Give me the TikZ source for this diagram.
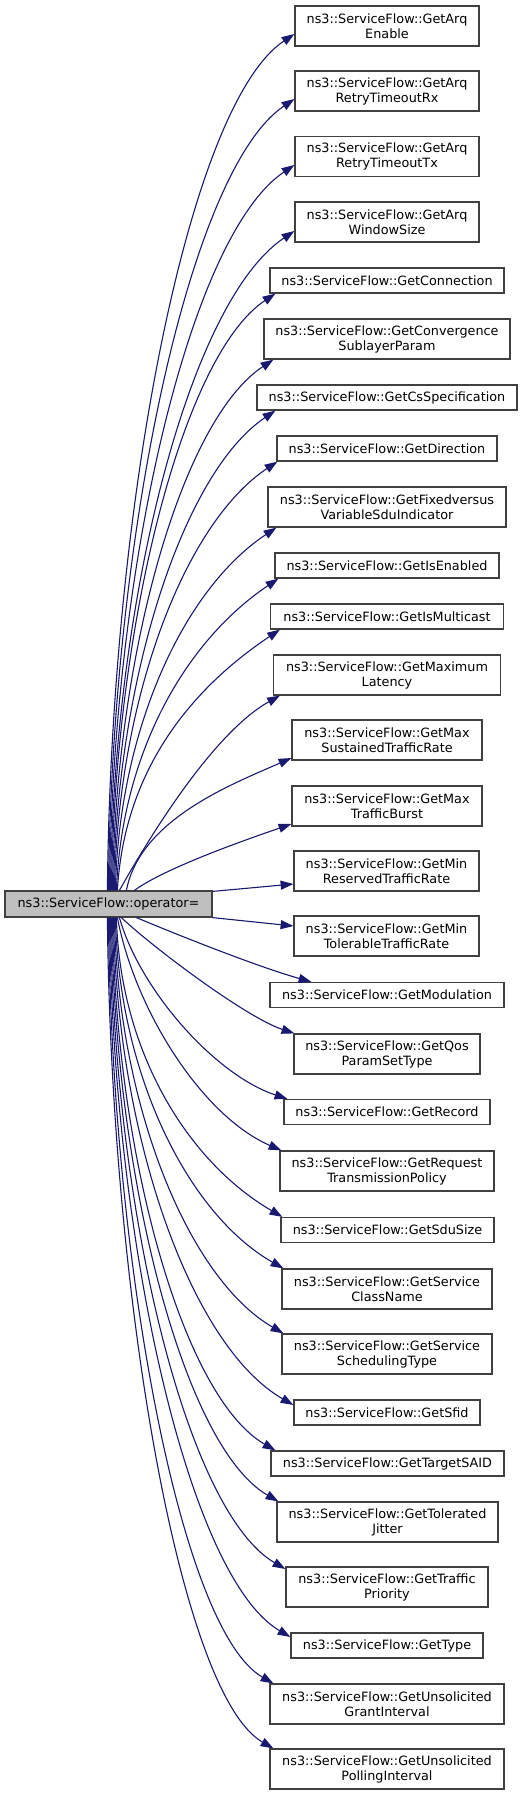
\documentclass[tikz,border=0pt]{standalone}
\usepackage{fontspec}
\setmainfont{DejaVu Sans}
\usetikzlibrary{arrows.meta,calc}
\definecolor{edgeblue}{HTML}{191970}
\definecolor{boxborder}{HTML}{404040}
\definecolor{mainfill}{HTML}{BFBFBF}
\begin{document}
\begin{tikzpicture}[x=1pt,y=-1pt,
  fn/.style={draw=boxborder, line width=1.2pt, fill=white, inner sep=0pt, align=center,
    font=\fontsize{12.8}{15}\selectfont, text=black},
  one/.style={fn, minimum height=25},
  two/.style={fn, minimum height=40},
  edge/.style={draw=edgeblue, line width=1.1pt, -{Triangle[length=12.8pt,width=9pt]}}]
\useasboundingbox (0,0) rectangle (528,1796);

\node[one, fill=mainfill, minimum width=207, minimum height=26] (m) at (108.5,904) {ns3::ServiceFlow::operator=};

\node[two, minimum width=184] (n1) at (387,26) {ns3::ServiceFlow::GetArq\\Enable};
\node[two, minimum width=184] (n2) at (387,91) {ns3::ServiceFlow::GetArq\\RetryTimeoutRx};
\node[two, minimum width=184] (n3) at (387,156.5) {ns3::ServiceFlow::GetArq\\RetryTimeoutTx};
\node[two, minimum width=184] (n4) at (387,222) {ns3::ServiceFlow::GetArq\\WindowSize};
\node[one, minimum width=234] (n5) at (387,280.5) {ns3::ServiceFlow::GetConnection};
\node[two, minimum width=246] (n6) at (387,339) {ns3::ServiceFlow::GetConvergence\\SublayerParam};
\node[one, minimum width=260] (n7) at (387,397.5) {ns3::ServiceFlow::GetCsSpecification};
\node[one, minimum width=220] (n8) at (387,448.5) {ns3::ServiceFlow::GetDirection};
\node[two, minimum width=238] (n9) at (387,507) {ns3::ServiceFlow::GetFixedversus\\VariableSduIndicator};
\node[one, minimum width=224] (n10) at (387,565.5) {ns3::ServiceFlow::GetIsEnabled};
\node[one, minimum width=233] (n11) at (387,616.5) {ns3::ServiceFlow::GetIsMulticast};
\node[two, minimum width=227] (n12) at (387,675) {ns3::ServiceFlow::GetMaximum\\Latency};
\node[two, minimum width=190] (n13) at (387,740) {ns3::ServiceFlow::GetMax\\SustainedTrafficRate};
\node[two, minimum width=190] (n14) at (387,806) {ns3::ServiceFlow::GetMax\\TrafficBurst};
\node[two, minimum width=185] (n15) at (386.5,871) {ns3::ServiceFlow::GetMin\\ReservedTrafficRate};
\node[two, minimum width=185] (n16) at (386.5,936) {ns3::ServiceFlow::GetMin\\TolerableTrafficRate};
\node[one, minimum width=234] (n17) at (387,995) {ns3::ServiceFlow::GetModulation};
\node[two, minimum width=186] (n18) at (387,1054) {ns3::ServiceFlow::GetQos\\ParamSetType};
\node[one, minimum width=206] (n19) at (387,1112) {ns3::ServiceFlow::GetRecord};
\node[two, minimum width=214] (n20) at (387,1171) {ns3::ServiceFlow::GetRequest\\TransmissionPolicy};
\node[one, minimum width=213] (n21) at (387.5,1230) {ns3::ServiceFlow::GetSduSize};
\node[two, minimum width=210] (n22) at (387,1289) {ns3::ServiceFlow::GetService\\ClassName};
\node[two, minimum width=210] (n23) at (387,1354) {ns3::ServiceFlow::GetService\\SchedulingType};
\node[one, minimum width=186] (n24) at (387,1412.5) {ns3::ServiceFlow::GetSfid};
\node[one, minimum width=233] (n25) at (387.5,1463.5) {ns3::ServiceFlow::GetTargetSAID};
\node[two, minimum width=221] (n26) at (387.5,1522) {ns3::ServiceFlow::GetTolerated\\Jitter};
\node[two, minimum width=202] (n27) at (387,1587) {ns3::ServiceFlow::GetTraffic\\Priority};
\node[one, minimum width=192] (n28) at (387,1645.5) {ns3::ServiceFlow::GetType};
\node[two, minimum width=234] (n29) at (387,1704) {ns3::ServiceFlow::GetUnsolicited\\GrantInterval};
\node[two, minimum width=234] (n30) at (387,1769) {ns3::ServiceFlow::GetUnsolicited\\PollingInterval};

% upper edges
\draw[edge] ($(m.north west)+(103,0)$) .. controls (111,505) and (188,105) .. ($(n1.west)+(0,8)$);
\draw[edge] ($(m.north west)+(104,0)$) .. controls (112,535) and (189,170) .. ($(n2.west)+(0,8)$);
\draw[edge] ($(m.north west)+(105,0)$) .. controls (113,564) and (190,235) .. ($(n3.west)+(0,8.5)$);
\draw[edge] ($(m.north west)+(106,0)$) .. controls (114,594) and (190,301) .. ($(n4.west)+(0,9)$);
\draw[edge] ($(m.north west)+(107,0)$) .. controls (115,622) and (183,355) .. ($(n5.south west)+(6,0)$);
\draw[edge] ($(m.north west)+(108,0)$) .. controls (116,652) and (182,420) .. ($(n6.south west)+(10,0)$);
\draw[edge] ($(m.north west)+(109,0)$) .. controls (117,675) and (184,472) .. ($(n7.south west)+(19,0)$);
\draw[edge] ($(m.north west)+(110,0)$) .. controls (118,697) and (185,523) .. ($(n8.south west)+(1,0)$);
\draw[edge] ($(m.north west)+(111,0)$) .. controls (119,727) and (185,588) .. ($(n9.south west)+(9,0)$);
\draw[edge] ($(m.north west)+(112,0)$) .. controls (122,750) and (187,640) .. ($(n10.south west)+(4,0)$);
\draw[edge] ($(m.north west)+(113,0)$) .. controls (124,773) and (188,691) .. ($(n11.south west)+(10,0)$);
\draw[edge] ($(m.north west)+(115,0)$) .. controls (145,845) and (211,734) .. ($(n12.south west)+(7,0)$);
\draw[edge] ($(m.north west)+(122,0)$) .. controls (140,820) and (230,785) .. ($(n13.west)+(0,18)$);
\draw[edge] ($(m.north west)+(130,0)$) .. controls (165,868) and (245,840) .. ($(n14.west)+(0,18)$);
\draw[edge] ($(m.north east)+(0,1)$) -- ($(n15.west)+(0,13)$);
% lower edges
\draw[edge] (m.south east) -- ($(n16.west)+(0,-10)$);
\draw[edge] ($(m.south west)+(132,0)$) .. controls (190,940) and (262,968) .. ($(n17.north west)+(42,0)$);
\draw[edge] ($(m.south west)+(117,0)$) .. controls (150,945) and (245,1017) .. ($(n18.north west)+(1,0)$);
\draw[edge] ($(m.south west)+(115,0)$) .. controls (140,990) and (215,1075) .. ($(n19.north west)+(4,0)$);
\draw[edge] ($(m.south west)+(113,0)$) .. controls (135,1010) and (202,1116) .. ($(n20.north west)+(2,0)$);
\draw[edge] ($(m.south west)+(112,0)$) .. controls (120,1052) and (188,1162) .. ($(n21.north west)+(2,0)$);
\draw[edge] ($(m.south west)+(111,0)$) .. controls (119,1075) and (188,1214) .. ($(n22.north west)+(2,0)$);
\draw[edge] ($(m.south west)+(110,0)$) .. controls (118,1105) and (188,1278) .. ($(n23.north west)+(2,0)$);
\draw[edge] ($(m.south west)+(109,0)$) .. controls (117,1137) and (191,1346) .. ($(n24.west)+(0,-7.5)$);
\draw[edge] ($(m.south west)+(108,0)$) .. controls (116,1157) and (183,1397) .. ($(n25.north west)+(5,0)$);
\draw[edge] ($(m.south west)+(107,0)$) .. controls (115,1180) and (184,1447) .. ($(n26.north west)+(2,0)$);
\draw[edge] ($(m.south west)+(106,0)$) .. controls (114,1210) and (186,1511) .. ($(n27.west)+(0,-18)$);
\draw[edge] ($(m.south west)+(105,0)$) .. controls (113,1241) and (188,1577) .. ($(n28.west)+(0,-8.5)$);
\draw[edge] ($(m.south west)+(104,0)$) .. controls (112,1262) and (180,1630) .. ($(n29.north west)+(4,0)$);
\draw[edge] ($(m.south west)+(103,0)$) .. controls (111,1291) and (179,1694) .. ($(n30.north west)+(4,0)$);
\end{tikzpicture}
\end{document}
